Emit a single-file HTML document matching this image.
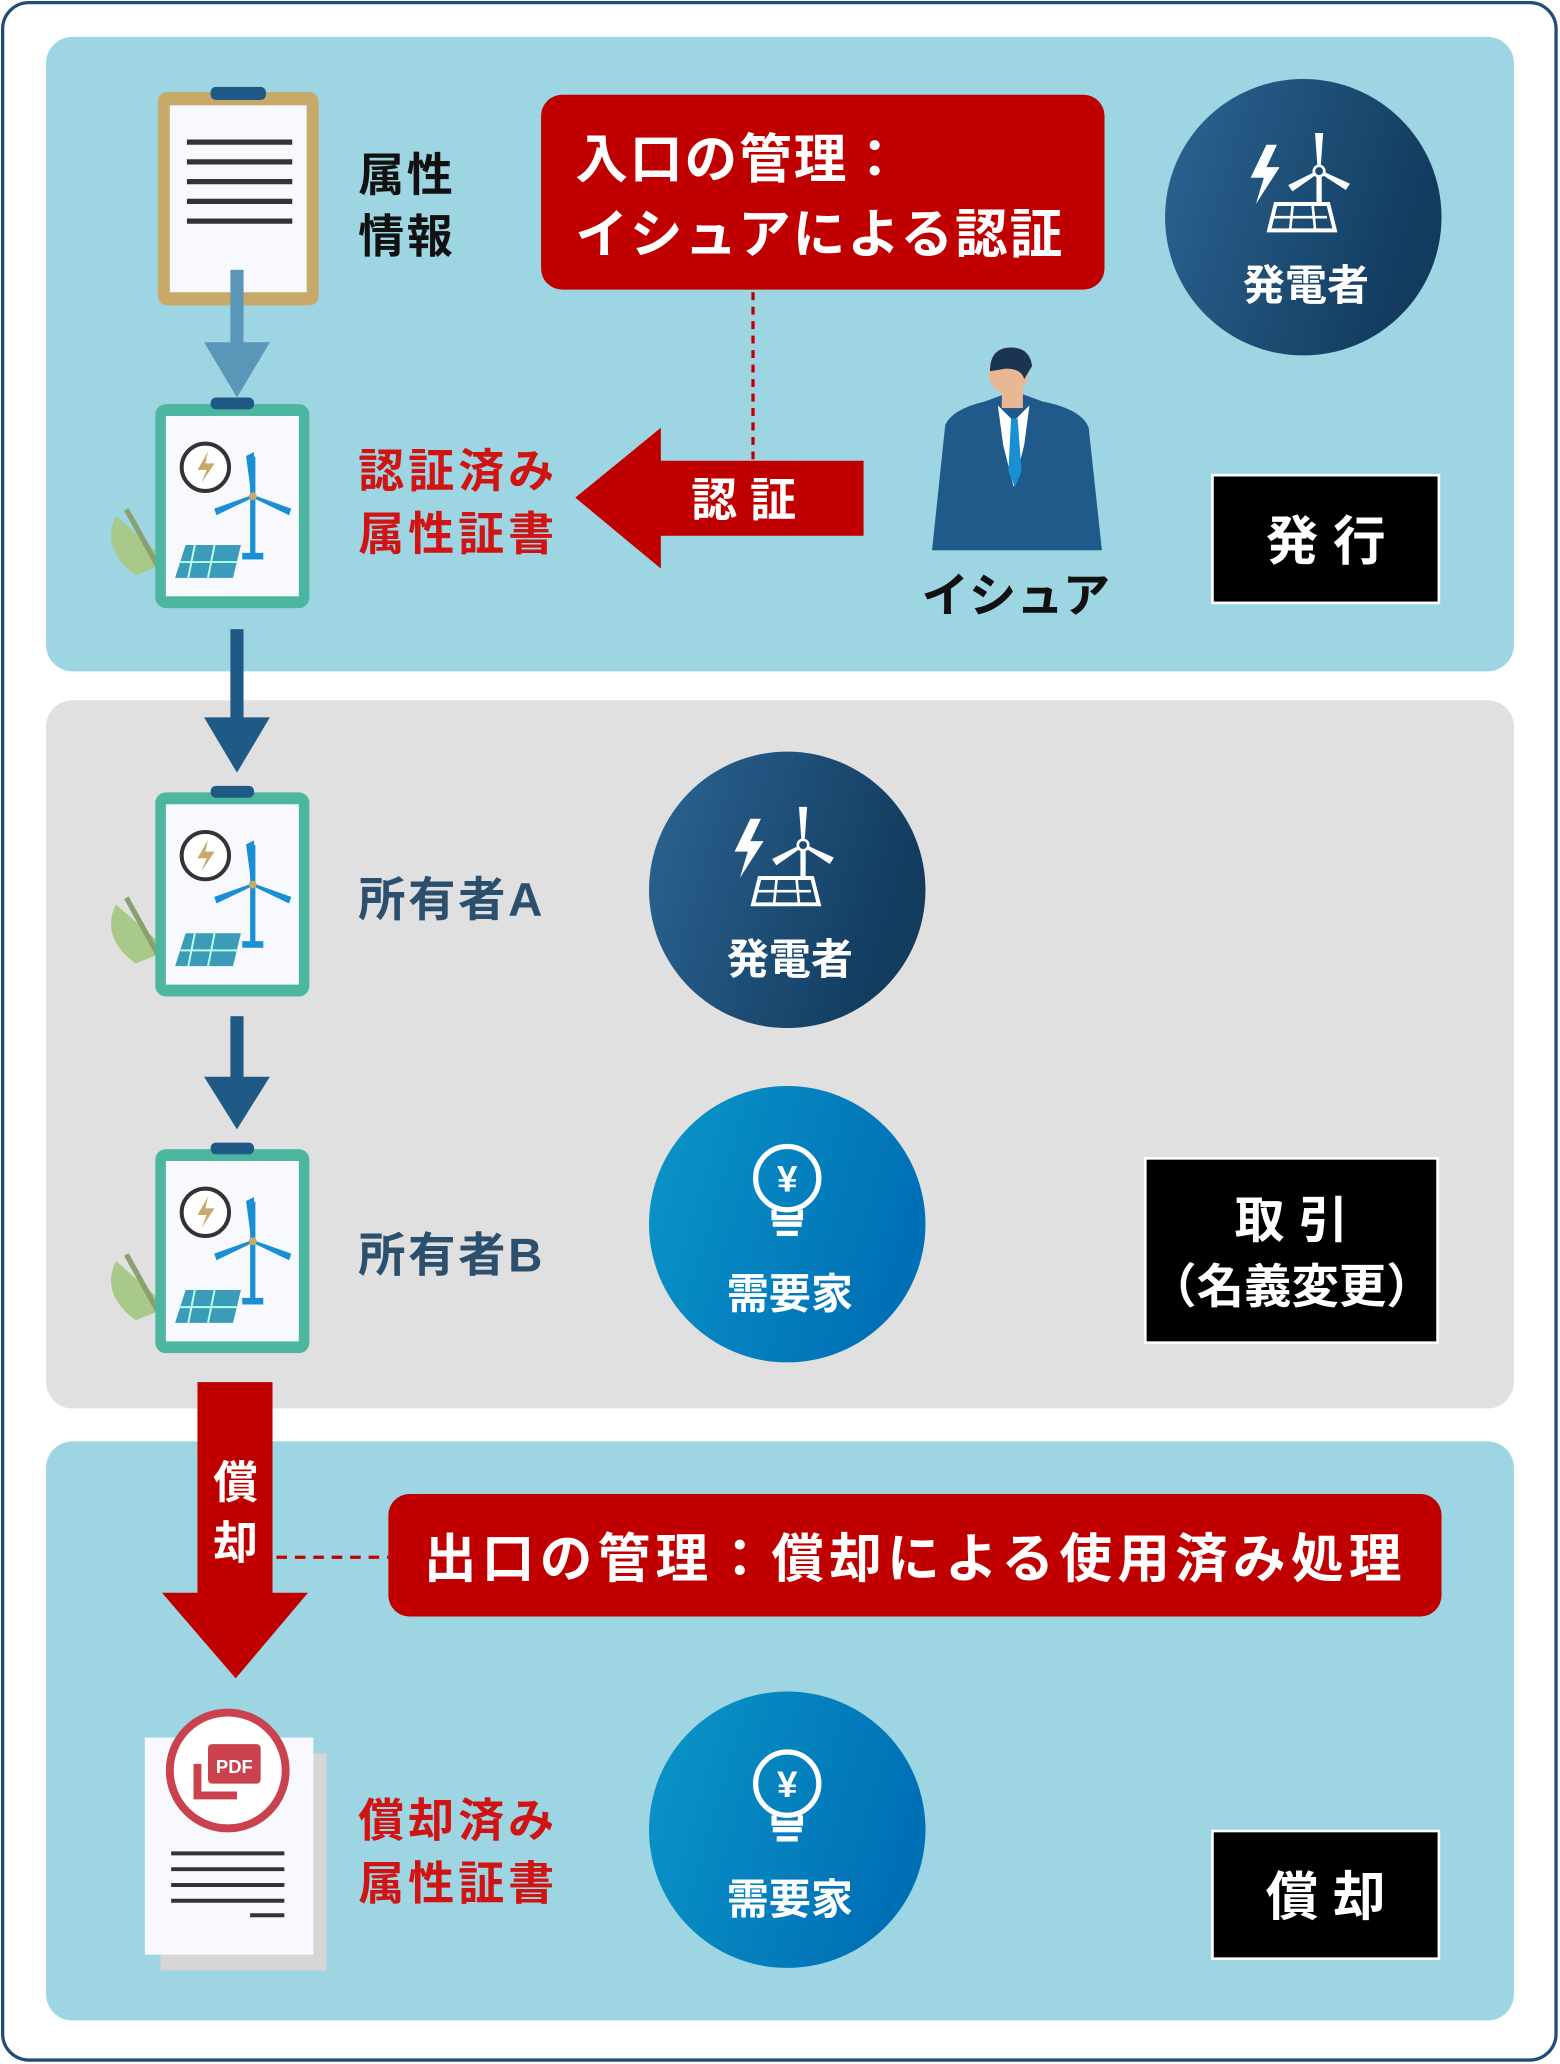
<!DOCTYPE html>
<html><head><meta charset="utf-8"><style>
html,body{margin:0;padding:0;background:#fff;}
svg{display:block;}
text{font-family:"Liberation Sans","Noto Sans CJK JP",sans-serif;font-weight:bold;}
</style></head><body>
<svg width="1560" height="2064" viewBox="0 0 1185 1568" preserveAspectRatio="none" xmlns="http://www.w3.org/2000/svg">
<defs>
<linearGradient id="gn" x1="0" y1="0" x2="1" y2="0.3"><stop offset="0" stop-color="#2b6593"/><stop offset="1" stop-color="#123b5e"/></linearGradient>
<linearGradient id="gb" x1="0" y1="0" x2="1" y2="0.3"><stop offset="0" stop-color="#0a96c8"/><stop offset="1" stop-color="#0070b6"/></linearGradient>
<g id="clip">
  <path d="M-30,85 q-12,25 15,45 l25,-10 z" fill="#a9c98a"/>
  <path d="M-22,80 l25,45" stroke="#8aa070" stroke-width="4"/>
  <rect x="0" y="0" width="117" height="155" rx="8" fill="#4db6a0"/>
  <rect x="8" y="9" width="101" height="137" fill="#f7f9fe"/>
  <rect x="42" y="-5" width="33" height="9" rx="4" fill="#1f5a86"/>
  <circle cx="38" cy="48" r="18" fill="#fff" stroke="#333" stroke-width="3"/>
  <path d="M40,36 l-8,14 h7 l-4,10 l10,-15 h-7 z" fill="#c8a96a"/>
  <line x1="74" y1="40" x2="74" y2="115" stroke="#1a8fd4" stroke-width="4"/>
  <path d="M74,70 l-4,-30 l4,-2 z M74,70 l-28,10 l1,3z M74,70 l28,10 l-1,3z" fill="#1a8fd4" stroke="#1a8fd4" stroke-width="2"/>
  <circle cx="74" cy="70" r="3" fill="#c8a96a"/>
  <rect x="66" y="113" width="16" height="5" fill="#1a8fd4"/>
  <path d="M15,132 l8,-25 h42 l-6,25z" fill="#3a9cb8"/>
  <path d="M30,107 l-5,25 M45,107 l-5,25 M19,120 h44" stroke="#bfe" stroke-width="1.5"/>
</g>
<g id="gen">
  <path d="M-30,-55 l-12,25 h10 l-6,20 l18,-28 h-10 l8,-17z" fill="#fff"/>
  <line x1="10" y1="-35" x2="10" y2="-10" stroke="#fff" stroke-width="4"/>
  <path d="M10,-35 l-2,-28 l4,0z M10,-35 l22,10 l-2,3z M10,-35 l-20,14 l-2,-3z" fill="#fff" stroke="#fff" stroke-width="2"/>
  <circle cx="10" cy="-35" r="4" fill="#1c4b74" stroke="#fff" stroke-width="2"/>
  <path d="M-28,10 l5,-20 h40 l5,20z" fill="none" stroke="#fff" stroke-width="3"/>
  <path d="M-26,0 h42 M-10,-10 l-2,20 M5,-10 l2,20" stroke="#fff" stroke-width="2"/>
</g>
<g id="yen">
  <circle cx="0" cy="-30" r="24" fill="none" stroke="#fff" stroke-width="4"/>
  <path d="M-10,-6 v6 h20 v-6" fill="none" stroke="#fff" stroke-width="4"/>
  <rect x="-11" y="3" width="22" height="4" fill="#fff"/>
  <rect x="-8" y="10" width="16" height="4" fill="#fff"/>
  <text x="0" y="-20" text-anchor="middle" font-size="28" fill="#fff">¥</text>
</g>
</defs>
<rect x="2" y="2" width="1180" height="1563" rx="20" fill="#fff" stroke="#1f4e79" stroke-width="2.5"/>
<rect x="35" y="28" width="1115" height="482" rx="20" fill="#9dd5e3"/>
<rect x="35" y="532" width="1115" height="538" rx="20" fill="#e0e0e0"/>
<rect x="35" y="1095" width="1115" height="440" rx="20" fill="#9dd5e3"/>

<rect x="120" y="70" width="122" height="162" rx="7" fill="#c8a96a"/>
<rect x="129" y="80" width="104" height="142" fill="#f7f9fe"/>
<rect x="160" y="66" width="42" height="10" rx="4" fill="#1f5a86"/>
<g stroke="#333" stroke-width="4"><line x1="142" y1="108" x2="222" y2="108"/><line x1="142" y1="123" x2="222" y2="123"/><line x1="142" y1="138" x2="222" y2="138"/><line x1="142" y1="153" x2="222" y2="153"/><line x1="142" y1="168" x2="222" y2="168"/></g>
<text x="272" y="145" font-size="35" fill="#111" letter-spacing="2">属性</text>
<text x="272" y="192" font-size="35" fill="#111" letter-spacing="2">情報</text>
<rect x="175" y="205" width="10" height="58" fill="#5a96b8"/>
<path d="M155,260 h50 l-25,42z" fill="#5a96b8"/>

<use href="#clip" x="118" y="307"/>
<text x="272" y="370" font-size="35" fill="#d01414" letter-spacing="3">認証済み</text>
<text x="272" y="418" font-size="35" fill="#d01414" letter-spacing="3">属性証書</text>

<rect x="411" y="72" width="428" height="148" rx="16" fill="#c00000"/>
<text x="437" y="135" font-size="40" fill="#fff" letter-spacing="1.5">入口の管理：</text>
<text x="437" y="192" font-size="40" fill="#fff" letter-spacing="1.5">イシュアによる認証</text>
<line x1="572" y1="222" x2="572" y2="350" stroke="#c00000" stroke-width="2.5" stroke-dasharray="6,5"/>
<path d="M437,378 L502,325 V350 H656 V407 H502 V432 Z" fill="#c00000"/>
<text x="525" y="392" font-size="35" fill="#fff">認 証</text>

<circle cx="990" cy="165" r="105" fill="url(#gn)"/>
<use href="#gen" x="992" y="165"/>
<text x="992" y="228" text-anchor="middle" font-size="32" fill="#fff">発電者</text>

<path d="M708,418 l10,-95 q5,-12 30,-18 l22,-8 l22,8 q30,6 35,20 l10,93z" fill="#1f5a8a"/>
<path d="M758,308 l12,12 l12,-12 l-4,30 l-8,32 l-8,-32z" fill="#fff"/>
<path d="M768,318 h5 l3,40 l-5,12 l-5,-12z" fill="#1a8fd4"/>
<rect x="761" y="290" width="16" height="20" fill="#e8b895"/>
<ellipse cx="766" cy="283" rx="15" ry="17" fill="#e8b895"/>
<path d="M752,282 q0,-18 16,-18 q14,0 16,14 l-6,10 q-2,-8 -14,-8z" fill="#1b3550"/>
<text x="700" y="465" font-size="36" fill="#111">イシュア</text>

<rect x="921" y="361" width="172" height="97" fill="#000" stroke="#fff" stroke-width="2"/>
<text x="1007" y="425" text-anchor="middle" font-size="40" fill="#fff">発 行</text>

<rect x="175" y="478" width="10" height="70" fill="#1f5a86"/>
<path d="M155,545 h50 l-25,42z" fill="#1f5a86"/>

<use href="#clip" x="118" y="602"/>
<text x="272" y="696" font-size="36" fill="#2c4f6e" letter-spacing="2">所有者A</text>
<circle cx="598" cy="676" r="105" fill="url(#gn)"/>
<use href="#gen" x="600" y="677"/>
<text x="600" y="740" text-anchor="middle" font-size="32" fill="#fff">発電者</text>

<rect x="175" y="772" width="10" height="50" fill="#1f5a86"/>
<path d="M155,818 h50 l-25,40z" fill="#1f5a86"/>

<use href="#clip" x="118" y="873"/>
<text x="272" y="966" font-size="36" fill="#2c4f6e" letter-spacing="2">所有者B</text>
<circle cx="598" cy="930" r="105" fill="url(#gb)"/>
<use href="#yen" x="598" y="925"/>
<text x="600" y="994" text-anchor="middle" font-size="32" fill="#fff">需要家</text>

<rect x="870" y="880" width="222" height="140" fill="#000" stroke="#fff" stroke-width="2"/>
<text x="981" y="940" text-anchor="middle" font-size="38" fill="#fff">取 引</text>
<text x="981" y="990" text-anchor="middle" font-size="36" fill="#fff">（名義変更）</text>

<path d="M150,1050 H207 V1210 H234 L179,1275 L123,1210 H150Z" fill="#c00000"/>
<text x="179" y="1138" text-anchor="middle" font-size="34" fill="#fff">償</text>
<text x="179" y="1184" text-anchor="middle" font-size="34" fill="#fff">却</text>
<line x1="210" y1="1183" x2="295" y2="1183" stroke="#c00000" stroke-width="2.5" stroke-dasharray="8,6"/>
<rect x="295" y="1135" width="800" height="93" rx="16" fill="#c00000"/>
<text x="322" y="1198" font-size="40" fill="#fff" letter-spacing="4">出口の管理：償却による使用済み処理</text>

<rect x="122" y="1332" width="126" height="165" fill="#d6d6d6"/>
<rect x="110" y="1320" width="128" height="165" fill="#f7f9fe"/>
<circle cx="173" cy="1345" r="44" fill="#fff" stroke="#c9424e" stroke-width="6"/>
<rect x="158" y="1325" width="40" height="30" rx="3" fill="#c9424e"/>
<path d="M150,1340 v24 h30" fill="none" stroke="#c9424e" stroke-width="6"/>
<text x="178" y="1347" text-anchor="middle" font-size="14" fill="#fff">PDF</text>
<g stroke="#333" stroke-width="3"><line x1="130" y1="1408" x2="216" y2="1408"/><line x1="130" y1="1420" x2="216" y2="1420"/><line x1="130" y1="1432" x2="216" y2="1432"/><line x1="130" y1="1444" x2="216" y2="1444"/><line x1="190" y1="1455" x2="216" y2="1455"/></g>
<text x="272" y="1395" font-size="35" fill="#d01414" letter-spacing="3">償却済み</text>
<text x="272" y="1443" font-size="35" fill="#d01414" letter-spacing="3">属性証書</text>

<circle cx="598" cy="1390" r="105" fill="url(#gb)"/>
<use href="#yen" x="598" y="1385"/>
<text x="600" y="1454" text-anchor="middle" font-size="32" fill="#fff">需要家</text>

<rect x="921" y="1391" width="172" height="97" fill="#000" stroke="#fff" stroke-width="2"/>
<text x="1007" y="1455" text-anchor="middle" font-size="40" fill="#fff">償 却</text>
</svg>
</body></html>
